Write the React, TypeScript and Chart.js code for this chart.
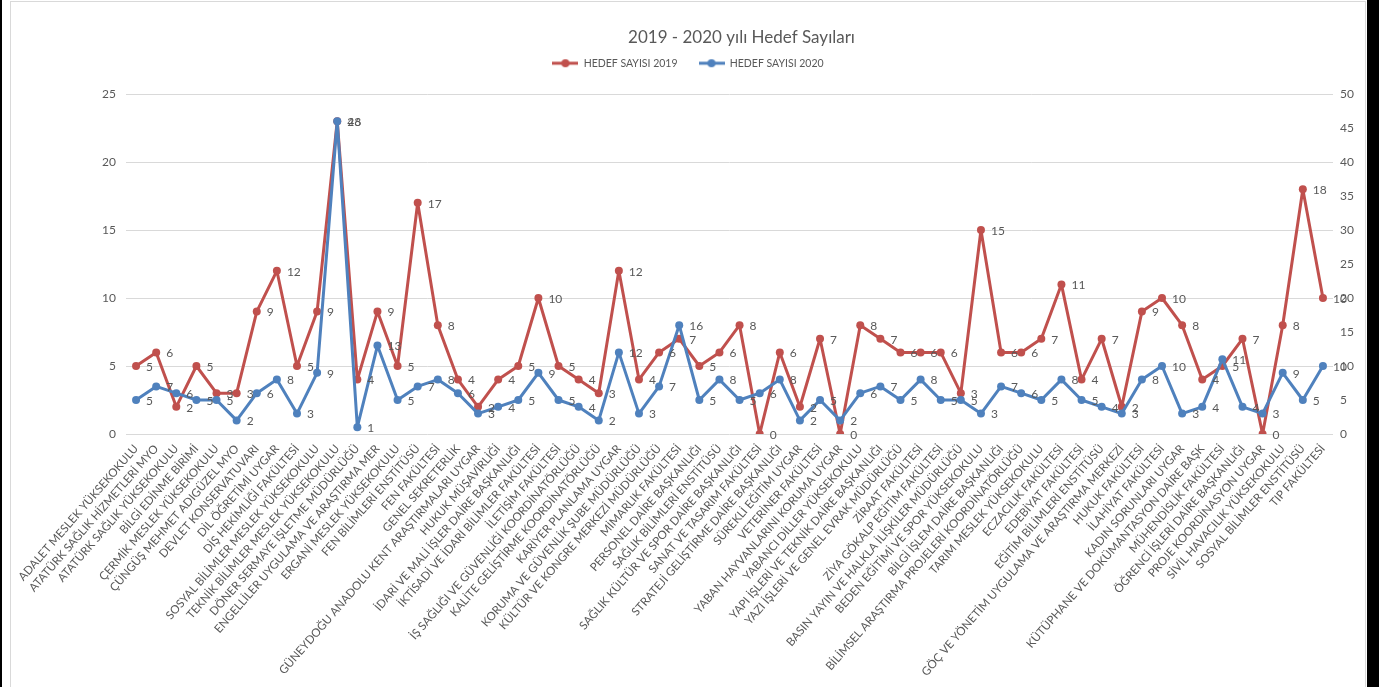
import React, { useEffect, useRef } from "react";
import { Chart, registerables } from "chart.js";

Chart.register(...registerables);

const chartTitle = "2019 - 2020 yılı Hedef Sayıları";

const categories = [
  "ADALET MESLEK YÜKSEKOKULU",
  "ATATÜRK SAĞLIK HİZMETLERİ MYO",
  "ATATÜRK SAĞLIK YÜKSEKOKULU",
  "BİLGİ EDİNME BİRİMİ",
  "ÇERMİK MESLEK YÜKSEKOKULU",
  "ÇÜNGÜŞ MEHMET ADIGÜZEL MYO",
  "DEVLET KONSERVATUVARI",
  "DİL ÖĞRETİMİ UYGAR",
  "DİŞ HEKİMLİĞİ FAKÜLTESİ",
  "SOSYAL BİLİMLER MESLEK YÜKSEKOKULU",
  "TEKNİK BİLİMLER MESLEK YÜKSEKOKULU",
  "DÖNER SERMAYE İŞLETME MÜDÜRLÜĞÜ",
  "ENGELLİLER UYGULAMA VE ARAŞTIRMA MER",
  "ERGANİ MESLEK YÜKSEKOKULU",
  "FEN BİLİMLERİ ENSTİTÜSÜ",
  "FEN FAKÜLTESİ",
  "GENEL SEKRETERLİK",
  "GÜNEYDOĞU ANADOLU KENT ARAŞTIRMALARI UYGAR",
  "HUKUK MÜŞAVİRLİĞİ",
  "İDARİ VE MALİ İŞLER DAİRE BAŞKANLIĞI",
  "İKTİSADİ VE İDARİ BİLİMLER FAKÜLTESİ",
  "İLETİŞİM FAKÜLTESİ",
  "İŞ SAĞLIĞI VE GÜVENLİĞİ KOORDİNATÖRLÜĞÜ",
  "KALİTE GELİŞTİRME KOORDİNATÖRLÜĞÜ",
  "KARİYER PLANLAMA UYGAR",
  "KORUMA VE GÜVENLİK ŞUBE MÜDÜRLÜĞÜ",
  "KÜLTÜR VE KONGRE MERKEZİ MÜDÜRLÜĞÜ",
  "MİMARLIK FAKÜLTESİ",
  "PERSONEL DAİRE BAŞKANLIĞI",
  "SAĞLIK BİLİMLERİ ENSTİTÜSÜ",
  "SAĞLIK KÜLTÜR VE SPOR DAİRE BAŞKANLIĞI",
  "SANAT VE TASARIM FAKÜLTESİ",
  "STRATEJİ GELİŞTİRME DAİRE BAŞKANLIĞI",
  "SÜREKLİ EĞİTİM UYGAR",
  "VETERİNER FAKÜLTESİ",
  "YABAN HAYVANLARINI KORUMA UYGAR",
  "YABANCI DİLLER YÜKSEKOKULU",
  "YAPI İŞLERİ VE TEKNİK DAİRE BAŞKANLIĞI",
  "YAZI İŞLERİ VE GENEL EVRAK MÜDÜRLÜĞÜ",
  "ZİRAAT FAKÜLTESİ",
  "ZİYA GÖKALP EĞİTİM FAKÜLTESİ",
  "BASIN YAYIN VE HALKLA İLİŞKİLER MÜDÜRLÜĞÜ",
  "BEDEN EĞİTİMİ VE SPOR YÜKSEKOKULU",
  "BİLGİ İŞLEM DAİRE BAŞKANLIĞI",
  "BİLİMSEL ARAŞTIRMA PROJELERİ KOORDİNATÖRLÜĞÜ",
  "TARIM MESLEK YÜKSEKOKULU",
  "ECZACILIK FAKÜLTESİ",
  "EDEBİYAT FAKÜLTESİ",
  "EĞİTİM BİLİMLERİ ENSTİTÜSÜ",
  "GÖÇ VE YÖNETİM UYGULAMA VE ARAŞTIRMA MERKEZİ",
  "HUKUK FAKÜLTESİ",
  "İLAHİYAT FAKÜLTESİ",
  "KADIN SORUNLARI UYGAR",
  "KÜTÜPHANE VE DOKÜMANTASYON DAİRE BAŞK",
  "MÜHENDİSLİK FAKÜLTESİ",
  "ÖĞRENCİ İŞLERİ DAİRE BAŞKANLIĞI",
  "PROJE KOORDİNASYON UYGAR",
  "SİVİL HAVACILIK YÜKSEKOKULU",
  "SOSYAL BİLİMLER ENSTİTÜSÜ",
  "TIP FAKÜLTESİ",
];

const hedef2019 = [
  5, 6, 2, 5, 3, 3, 9, 12, 5, 9,
  23, 4, 9, 5, 17, 8, 4, 2, 4, 5,
  10, 5, 4, 3, 12, 4, 6, 7, 5, 6,
  8, 0, 6, 2, 7, 0, 8, 7, 6, 6,
  6, 3, 15, 6, 6, 7, 11, 4, 7, 2,
  9, 10, 8, 4, 5, 7, 0, 8, 18, 10,
];

const hedef2020 = [
  5, 7, 6, 5, 5, 2, 6, 8, 3, 9,
  46, 1, 13, 5, 7, 8, 6, 3, 4, 5,
  9, 5, 4, 2, 12, 3, 7, 16, 5, 8,
  5, 6, 8, 2, 5, 2, 6, 7, 5, 8,
  5, 5, 3, 7, 6, 5, 8, 5, 4, 3,
  8, 10, 3, 4, 11, 4, 3, 9, 5, 10,
];

const seriesNames = ["HEDEF SAYISI 2019", "HEDEF SAYISI 2020"];
const seriesColors = ["#C0504D", "#4F81BD"];
const leftTicks = [0, 5, 10, 15, 20, 25];
const rightTicks = [0, 5, 10, 15, 20, 25, 30, 35, 40, 45, 50];

const FONT = "Lato, 'Open Sans', sans-serif";
const TEXT = "#595959";

function makeLegendMarker(color: string) {
  const c = document.createElement("canvas");
  c.width = 26;
  c.height = 10;
  const g = c.getContext("2d")!;
  g.strokeStyle = color;
  g.lineWidth = 3;
  g.beginPath();
  g.moveTo(0, 5);
  g.lineTo(26, 5);
  g.stroke();
  g.fillStyle = color;
  g.beginPath();
  g.arc(13, 5, 4, 0, Math.PI * 2);
  g.fill();
  return c;
}

const titlePlugin = {
  id: "customTitle",
  afterDraw(chart: any) {
    const { ctx, chartArea } = chart;
    ctx.save();
    ctx.font = `17px ${FONT}`;
    ctx.fillStyle = TEXT;
    ctx.textAlign = "center";
    ctx.textBaseline = "middle";
    ctx.fillText(chartTitle, (chartArea.left + chartArea.right) / 2 + 12, 36);
    ctx.restore();
  },
};

const valueLabelPlugin = {
  id: "valueLabels",
  afterDatasetsDraw(chart: any) {
    const { ctx } = chart;
    ctx.save();
    ctx.font = `12px ${FONT}`;
    ctx.fillStyle = TEXT;
    ctx.textAlign = "left";
    ctx.textBaseline = "middle";
    chart.data.datasets.forEach((ds: any, di: number) => {
      const meta = chart.getDatasetMeta(di);
      meta.data.forEach((pt: any, i: number) => {
        ctx.fillText(String(ds.data[i]), pt.x + 10, pt.y + 1);
      });
    });
    ctx.restore();
  },
};

export default function App() {
  const ref = useRef<HTMLCanvasElement>(null);

  useEffect(() => {
    const markers = seriesColors.map(makeLegendMarker);
    const chart = new Chart(ref.current!, {
      type: "line",
      data: {
        labels: categories,
        datasets: [
          {
            label: seriesNames[0],
            data: hedef2019,
            borderColor: seriesColors[0],
            backgroundColor: seriesColors[0],
            borderWidth: 3,
            borderJoinStyle: "round",
            borderCapStyle: "round",
            pointRadius: 4,
            pointBorderWidth: 0,
            pointBackgroundColor: seriesColors[0],
            tension: 0,
            yAxisID: "y",
            order: 2,
          },
          {
            label: seriesNames[1],
            data: hedef2020,
            borderColor: seriesColors[1],
            backgroundColor: seriesColors[1],
            borderWidth: 3,
            borderJoinStyle: "round",
            borderCapStyle: "round",
            pointRadius: 4,
            pointBorderWidth: 0,
            pointBackgroundColor: seriesColors[1],
            tension: 0,
            yAxisID: "y1",
            order: 1,
          },
        ],
      },
      options: {
        responsive: false,
        animation: false,
        layout: { padding: { top: 35, left: 0, right: 0, bottom: 0 } },
        plugins: {
          title: { display: false },
          subtitle: {
            display: true,
            text: "",
            position: "top",
            weight: 500,
            font: { size: 5, lineHeight: 1 },
            padding: { top: 5, bottom: 5.5 },
          },
          tooltip: { enabled: false },
          legend: {
            display: true,
            position: "top",
            labels: {
              usePointStyle: true,
              pointStyleWidth: 26,
              padding: 21,
              color: TEXT,
              font: { family: FONT, size: 10.5 },
              sort: (a: any, b: any) => a.datasetIndex - b.datasetIndex,
              generateLabels: (c: any) => {
                const items = (Chart as any).defaults.plugins.legend.labels.generateLabels(c);
                return items.map((it: any) => ({ ...it, pointStyle: markers[it.datasetIndex] }));
              },
            },
          },
        },
        scales: {
          x: {
            offset: true,
            grid: { display: false, drawTicks: false },
            border: { display: false },
            ticks: {
              autoSkip: false,
              minRotation: 49,
              maxRotation: 49,
              padding: 8,
              color: TEXT,
              font: { family: FONT, size: 11.5 },
            },
            afterFit: (s: any) => {
              s.height = 253;
            },
          },
          y: {
            position: "left",
            min: 0,
            max: 25,
            grid: { color: "#D9D9D9", lineWidth: 1, drawTicks: false },
            border: { display: false },
            ticks: { padding: 10, color: TEXT, font: { family: FONT, size: 12 } },
            afterBuildTicks: (s: any) => {
              s.ticks = leftTicks.map((v) => ({ value: v }));
            },
            afterFit: (s: any) => {
              s.width = 115;
            },
          },
          y1: {
            position: "right",
            min: 0,
            max: 50,
            grid: { display: false, drawTicks: false },
            border: { display: false },
            ticks: { padding: 7, color: TEXT, font: { family: FONT, size: 12 } },
            afterBuildTicks: (s: any) => {
              s.ticks = rightTicks.map((v) => ({ value: v }));
            },
            afterFit: (s: any) => {
              s.width = 32;
            },
          },
        },
      },
      plugins: [titlePlugin, valueLabelPlugin],
    } as any);
    return () => chart.destroy();
  }, []);

  return (
    <div
      style={{
        position: "fixed",
        left: 0,
        top: 0,
        width: 1379,
        height: 687,
        background: "#000",
        overflow: "hidden",
      }}
    >
      <div
        style={{
          position: "absolute",
          left: 2,
          top: 0,
          width: 1365,
          height: 687,
          background: "#fff",
        }}
      >
        <div
          style={{
            position: "absolute",
            left: 8,
            top: 1,
            width: 1354,
            height: 700,
            border: "1px solid #D9D9D9",
          }}
        >
          <canvas
            ref={ref}
            width={1354}
            height={685}
            style={{ position: "absolute", left: 0, top: 0, width: 1354, height: 685 }}
          />
        </div>
      </div>
    </div>
  );
}
